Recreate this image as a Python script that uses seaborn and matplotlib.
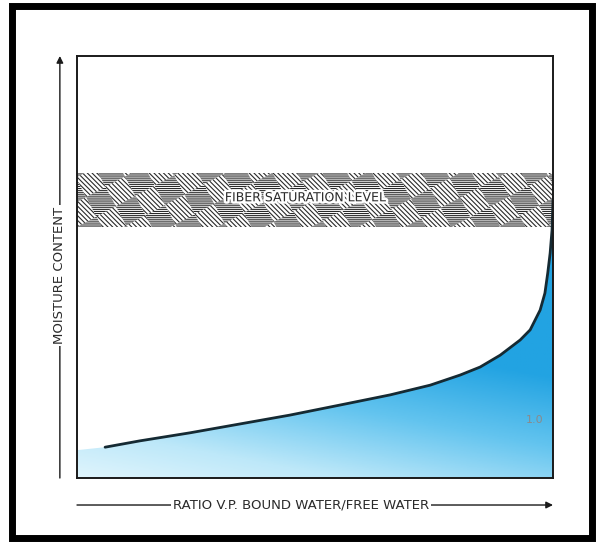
import numpy as np
import pandas as pd
import matplotlib
matplotlib.use("Agg")
import matplotlib.pyplot as plt
import matplotlib.patheffects as pe
from matplotlib.colors import LinearSegmentedColormap
from matplotlib.patches import Polygon, Rectangle
import seaborn as sns

# values (x = ratio of vapour pressures, y = moisture content, both 0..1)
ratio = [0.059, 0.132, 0.237, 0.342, 0.447, 0.553, 0.658, 0.742, 0.805, 0.847,
         0.889, 0.931, 0.952, 0.973, 0.983, 0.989, 0.994, 0.998, 1.000]
moisture = [0.073, 0.088, 0.107, 0.128, 0.149, 0.173, 0.197, 0.220, 0.244, 0.263,
            0.291, 0.327, 0.351, 0.398, 0.438, 0.486, 0.533, 0.588, 0.659]
fill_start = (0.0, 0.066)          # fill continues faintly to the left frame
fsp_low, fsp_high = 0.595, 0.723   # fiber saturation band
end_label = "1.0"
end_label_pos = (0.962, 0.137)

df = pd.DataFrame({"ratio": ratio, "moisture": moisture})

sns.set_style("white")
plt.rcParams["font.family"] = ["DejaVu Sans"]
plt.rcParams["hatch.linewidth"] = 0.8
plt.rcParams["hatch.color"] = "#2a2a2a"

fig = plt.figure(figsize=(6.03, 5.46), dpi=100)
ax = fig.add_axes([77 / 603, 68 / 546, 476 / 603, 422 / 546])
ax.set_xlim(0, 1)
ax.set_ylim(0, 1)

# gradient fill under the curve
fx = np.r_[fill_start[0], df["ratio"].values]
fy = np.r_[fill_start[1], df["moisture"].values]
poly = ax.fill_between(fx, 0, fy, color="none", lw=0)
gx, gy = np.meshgrid(np.linspace(0, 1, 300), np.linspace(0, 1, 300))
shade = np.clip(0.1 + 0.42 * gx + 2.0 * gy, 0, 1)
cmap = LinearSegmentedColormap.from_list("water", ["#eefafe", "#bde8f9", "#63c4ef", "#22a3e2"])
im = ax.imshow(shade, extent=(0, 1, 0, 1), origin="lower", cmap=cmap,
               vmin=0, vmax=1, aspect="auto", zorder=1)
im.set_clip_path(poly.get_paths()[0], transform=ax.transData)

sns.lineplot(data=df, x="ratio", y="moisture", ax=ax, color="#152a33",
             lw=2.0, zorder=3, sort=False)

# hatched fiber saturation band, basket-weave tiles
band = Rectangle((0, fsp_low), 1, fsp_high - fsp_low, facecolor="white",
                 edgecolor="none", zorder=2)
ax.add_patch(band)
sx, sy = 1 / 476, 1 / 422
L, th = 22.0, np.deg2rad(28)
a = np.array([np.cos(th), np.sin(th)]) * L
b = np.array([-np.sin(th), np.cos(th)]) * L
for i in range(-10, 30):
    for j in range(-18, 10):
        o = i * a + j * b + np.array([0, fsp_low / sy])
        corners = np.array([o, o + a, o + a + b, o + b])
        corners[:, 0] *= sx
        corners[:, 1] *= sy
        if corners[:, 0].max() < -0.05 or corners[:, 0].min() > 1.05:
            continue
        if corners[:, 1].max() < fsp_low or corners[:, 1].min() > fsp_high:
            continue
        h = "\\" * 7 if (i + j) % 2 == 0 else "-" * 8
        p = Polygon(corners, closed=True, facecolor="none", edgecolor="#2a2a2a",
                    lw=0, hatch=h, zorder=2)
        ax.add_patch(p)
        p.set_clip_path(band)

ax.text(0.48, (fsp_low + fsp_high) / 2 + 0.005, "FIBER SATURATION LEVEL",
        ha="center", va="center", fontsize=9, color="#2a2a2a", zorder=4,
        path_effects=[pe.withStroke(linewidth=3.5, foreground="white")])

ax.text(end_label_pos[0], end_label_pos[1], end_label, ha="center", va="center",
        fontsize=8, color="#8a8a8a", zorder=4)

ax.set_xticks([])
ax.set_yticks([])
ax.set_xlabel("")
ax.set_ylabel("")
for s in ax.spines.values():
    s.set_visible(True)
    s.set_color("#1a1a1a")
    s.set_linewidth(1.4)
    s.set_zorder(5)

# axis arrows with labels breaking the lines
ax.annotate("", xy=(-0.036, 1.0), xytext=(-0.036, 0.0), xycoords="axes fraction",
            arrowprops=dict(arrowstyle="-|>", color="#1a1a1a", lw=1.0,
                            mutation_scale=10, shrinkA=0, shrinkB=0),
            annotation_clip=False)
ax.text(-0.036, 0.48, "MOISTURE CONTENT", transform=ax.transAxes, rotation=90,
        ha="center", va="center", fontsize=9.5, color="#2a2a2a",
        bbox=dict(facecolor="white", edgecolor="none", pad=1.5))
ax.annotate("", xy=(1.0, -0.064), xytext=(0.0, -0.064), xycoords="axes fraction",
            arrowprops=dict(arrowstyle="-|>", color="#1a1a1a", lw=1.0,
                            mutation_scale=10, shrinkA=0, shrinkB=0),
            annotation_clip=False)
ax.text(0.47, -0.064, "RATIO V.P. BOUND WATER/FREE WATER", transform=ax.transAxes,
        ha="center", va="center", fontsize=9.5, color="#2a2a2a",
        bbox=dict(facecolor="white", edgecolor="none", pad=1.5))

# thick outer frame
fig.patches.append(Rectangle((12 / 603, 8 / 546), 580 / 603, 532 / 546,
                             transform=fig.transFigure, fill=False,
                             edgecolor="black", lw=5))

fig.savefig("out.png", dpi=100)
